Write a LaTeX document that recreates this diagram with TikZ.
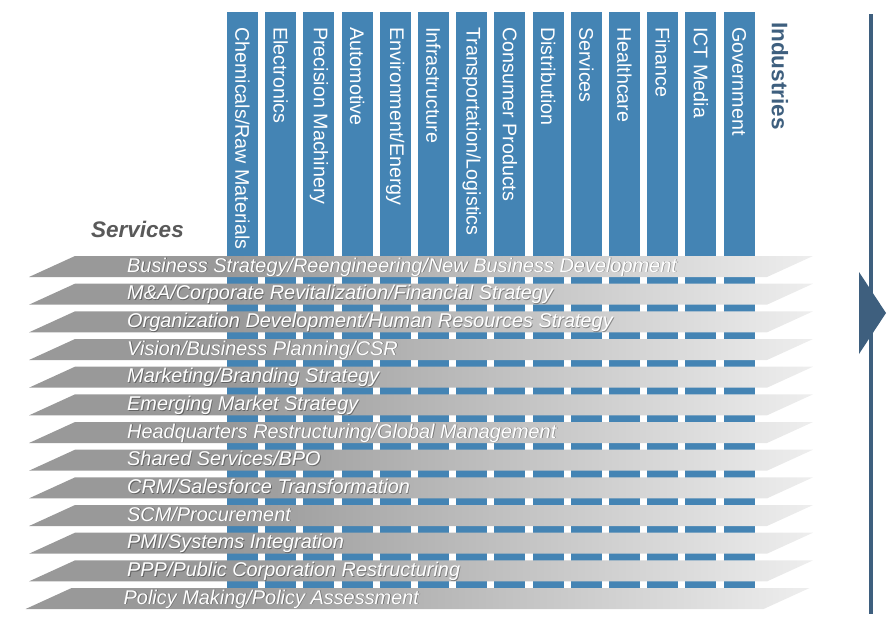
\documentclass[tikz,border=0pt]{standalone}
\usepackage{fontspec}
\setmainfont{Liberation Sans}
\definecolor{colblue}{RGB}{68,132,180}
\definecolor{dkblue}{RGB}{62,95,126}
\definecolor{svgray}{RGB}{89,89,89}
\definecolor{bandL}{RGB}{153,153,153}
\definecolor{bandR}{RGB}{238,238,238}
\pgfdeclarehorizontalshading{bandshade}{100bp}{color(0bp)=(bandL); color(38bp)=(bandL); color(75bp)=(bandR); color(100bp)=(bandR)}
\begin{document}
\begin{tikzpicture}[x=1pt,y=-1pt,
  colbox/.style={fill=colblue,draw=none},
  coltext/.style={text=white,rotate=-90,anchor=west,inner sep=0pt,font=\fontsize{19.7}{20}\selectfont},
  bandtext/.style={text=white,anchor=base west,inner sep=0pt,font=\fontsize{19.9}{20}\selectfont\itshape},
  bandshadow/.style={bandtext,text=black,opacity=0.35},
  mark line/.style={fill=dkblue,draw=none}]
\useasboundingbox (0,0) rectangle (896,618);
% industry columns
\foreach \n [count=\i] in {{Chemicals/Raw Materials},Electronics,{Precision Machinery},Automotive,{Environment/Energy},Infrastructure,{Transportation/Logistics},{Consumer Products},Distribution,Services,Healthcare,Finance,{ICT Media},Government}{
  \pgfmathsetmacro\xl{227+38.2*(\i-1)}
  \fill[colbox] (\xl,12) rectangle ++(31,586);
  \node[coltext] (c\i) at (\xl+15.5,27) {\n};
}
% service bands
\foreach \t [count=\i] in {{Business Strategy/Reengineering/New Business Development},{M\&A/Corporate Revitalization/Financial Strategy},{Organization Development/Human Resources Strategy},{Vision/Business Planning/CSR},{Marketing/Branding Strategy},{Emerging Market Strategy},{Headquarters Restructuring/Global Management},{Shared Services/BPO},{CRM/Salesforce Transformation},{SCM/Procurement},{PMI/Systems Integration},{PPP/Public Corporation Restructuring},{Policy Making/Policy Assessment}}{
  \pgfmathsetmacro\yt{256+27.67*(\i-1)}
  \pgfmathsetmacro\dx{\i==13 ? -3.5 : 0}
  \shade[shading=bandshade] (29+\dx,\yt+21) -- (75+\dx,\yt) -- (813+\dx,\yt) -- (767+\dx,\yt+21) -- cycle;
  \node[bandshadow] (h\i) at (127.8+\dx,\yt+16.8) {\t};
  \node[bandtext] (s\i) at (127+\dx,\yt+16) {\t};
}
% headings
\node[anchor=base west,inner sep=0pt,text=svgray,font=\fontsize{22.5}{24}\selectfont\bfseries\itshape] (svc) at (91,237) {Services};
\node[rotate=-90,anchor=west,inner sep=0pt,text=dkblue,font=\fontsize{22.5}{24}\selectfont\bfseries] (ind) at (780,22) {Industries};
% right marker
\fill[mark line] (869,14) rectangle (873,614);
\fill[mark line] (859,272) -- (886,313) -- (859,354) -- cycle;
\end{tikzpicture}
\end{document}
